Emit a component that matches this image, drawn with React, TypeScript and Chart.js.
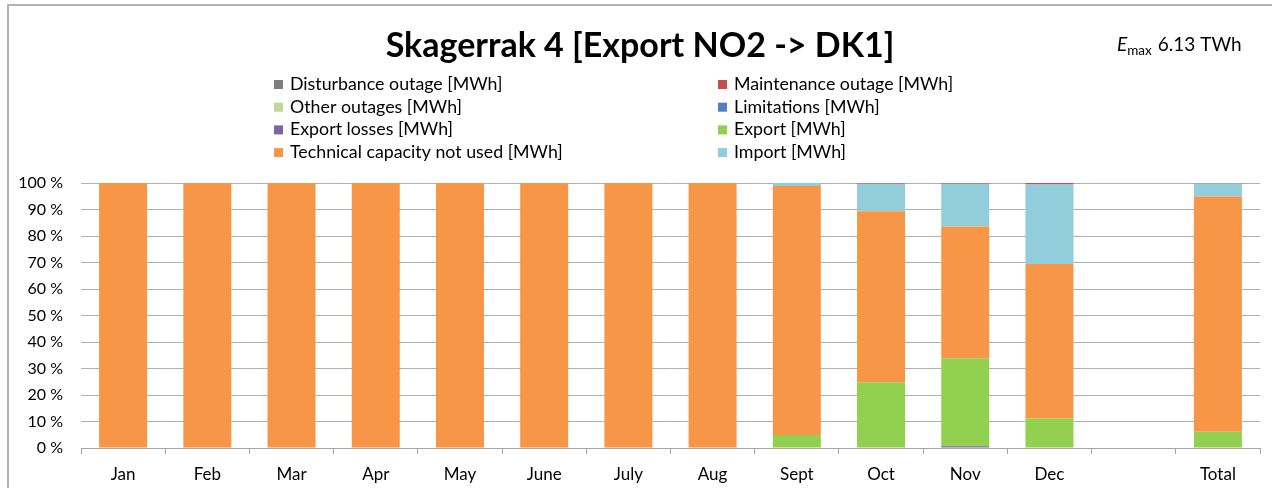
import { useEffect, useRef } from 'react';
import { Chart, registerables } from 'chart.js';

Chart.register(...registerables);

const FONT = 'Lato, "Open Sans", sans-serif';

const titleText = 'Skagerrak 4 [Export NO2 -> DK1]';
const emaxValue = '6.13 TWh';

const categories = ['Jan', 'Feb', 'Mar', 'Apr', 'May', 'June', 'July', 'Aug', 'Sept', 'Oct', 'Nov', 'Dec', '', 'Total'];

// values in percent of Emax, stacked bottom -> top
const exportLosses = [0, 0, 0, 0, 0, 0, 0, 0, 0, 0, 0.7, 0, null, 0];
const exportValues = [0, 0, 0, 0, 0, 0, 0, 0, 4.9, 24.8, 33.2, 11.1, null, 6.1];
const technicalNotUsed = [100, 100, 100, 100, 100, 100, 100, 100, 94.0, 64.5, 49.7, 58.3, null, 88.8];
const importValues = [0, 0, 0, 0, 0, 0, 0, 0, 1.1, 10.4, 16.1, 30.0, null, 4.9];
const maintenanceOutage = [0, 0, 0, 0, 0, 0, 0, 0, 0, 0.3, 0.3, 0.6, null, 0.2];
const disturbanceOutage = [0, 0, 0, 0, 0, 0, 0, 0, 0, 0, 0, 0, null, 0];
const otherOutages = [0, 0, 0, 0, 0, 0, 0, 0, 0, 0, 0, 0, null, 0];
const limitations = [0, 0, 0, 0, 0, 0, 0, 0, 0, 0, 0, 0, null, 0];

const yTicks = [0, 10, 20, 30, 40, 50, 60, 70, 80, 90, 100];

const series = [
  { label: 'Export losses [MWh]', data: exportLosses, color: '#8064A2' },
  { label: 'Export [MWh]', data: exportValues, color: '#92D050' },
  { label: 'Technical capacity not used [MWh]', data: technicalNotUsed, color: '#F79646' },
  { label: 'Import [MWh]', data: importValues, color: '#92CDDC' },
  { label: 'Maintenance outage [MWh]', data: maintenanceOutage, color: '#C0504D' },
  { label: 'Disturbance outage [MWh]', data: disturbanceOutage, color: '#7F7F7F' },
  { label: 'Other outages [MWh]', data: otherOutages, color: '#C3D69B' },
  { label: 'Limitations [MWh]', data: limitations, color: '#4F81BD' },
];

// legend layout: two columns, four rows
const legendColumn1 = ['Disturbance outage [MWh]', 'Other outages [MWh]', 'Export losses [MWh]', 'Technical capacity not used [MWh]'];
const legendColumn2 = ['Maintenance outage [MWh]', 'Limitations [MWh]', 'Export [MWh]', 'Import [MWh]'];

const headerPlugin = {
  id: 'header',
  afterDraw(chart: any) {
    const ctx: CanvasRenderingContext2D = chart.ctx;
    ctx.save();
    ctx.fillStyle = '#000';
    ctx.textBaseline = 'alphabetic';
    ctx.textAlign = 'center';
    ctx.font = `bold 34px ${FONT}`;
    ctx.fillText(titleText, 640, 57);

    ctx.textAlign = 'left';
    let x = 1117;
    ctx.font = `italic 19px ${FONT}`;
    ctx.fillText('E', x, 51);
    x += ctx.measureText('E').width;
    ctx.font = `13.5px ${FONT}`;
    ctx.fillText('max', x, 55);
    x += ctx.measureText('max').width + 6;
    ctx.font = `19px ${FONT}`;
    ctx.fillText(emaxValue, x, 51);

    const colorOf = (label: string) => {
      const ds = chart.data.datasets.find((d: any) => d.label === label);
      return ds ? ds.backgroundColor : '#000';
    };
    ctx.font = `17.8px ${FONT}`;
    const drawCol = (labels: string[], sx: number) => {
      labels.forEach((label, i) => {
        const cy = 84 + i * 22.7;
        ctx.fillStyle = colorOf(label);
        ctx.fillRect(sx, cy - 4, 9, 9);
        ctx.fillStyle = '#000';
        ctx.fillText(label, sx + 16, cy + 6);
      });
    };
    drawCol(legendColumn1, 274);
    drawCol(legendColumn2, 718);
    ctx.restore();
  },
};

export default function App() {
  const ref = useRef<HTMLCanvasElement | null>(null);
  useEffect(() => {
    if (!ref.current) return;
    const chart = new Chart(ref.current, {
      type: 'bar',
      data: {
        labels: categories,
        datasets: series.map((s) => ({
          label: s.label,
          data: s.data,
          backgroundColor: s.color,
          borderWidth: 0,
          stack: 'a',
          categoryPercentage: 1,
          barPercentage: 0.57,
        })),
      },
      options: {
        animation: false,
        responsive: false,
        maintainAspectRatio: false,
        layout: { padding: { left: 0, right: 12, top: 183, bottom: 0 } },
        plugins: { legend: { display: false }, title: { display: false }, tooltip: { enabled: false } },
        scales: {
          x: {
            stacked: true,
            grid: { drawOnChartArea: false, drawTicks: true, tickLength: 6, color: '#a6a6a6', offset: true },
            border: { display: true, color: '#a6a6a6', width: 1 },
            ticks: { color: '#000', font: { family: FONT, size: 17 }, padding: 10, maxRotation: 0, autoSkip: false },
            afterFit: (s: any) => { s.height = 40; },
          },
          y: {
            stacked: true,
            min: 0,
            max: 100,
            afterBuildTicks: (s: any) => { s.ticks = yTicks.map((v) => ({ value: v })); },
            grid: { drawTicks: false, color: '#b0b0b0', lineWidth: 1 },
            border: { display: false },
            ticks: { color: '#000', font: { family: FONT, size: 16 }, padding: 18, callback: (v: any) => `${v} %` },
            afterFit: (s: any) => { s.width = 81; },
          },
        },
      },
      plugins: [headerPlugin],
    });
    return () => chart.destroy();
  }, []);
  return (
    <div style={{ position: 'absolute', left: 0, top: 0, width: 1272, height: 488, background: '#fff', overflow: 'hidden' }}>
      <canvas ref={ref} width={1272} height={488} style={{ position: 'absolute', left: 0, top: 0 }} />
      <div style={{ position: 'absolute', left: 7, top: 4, width: 1265, height: 2, background: '#b4b4b4' }} />
      <div style={{ position: 'absolute', left: 7, top: 4, width: 2, height: 484, background: '#b4b4b4' }} />
    </div>
  );
}
